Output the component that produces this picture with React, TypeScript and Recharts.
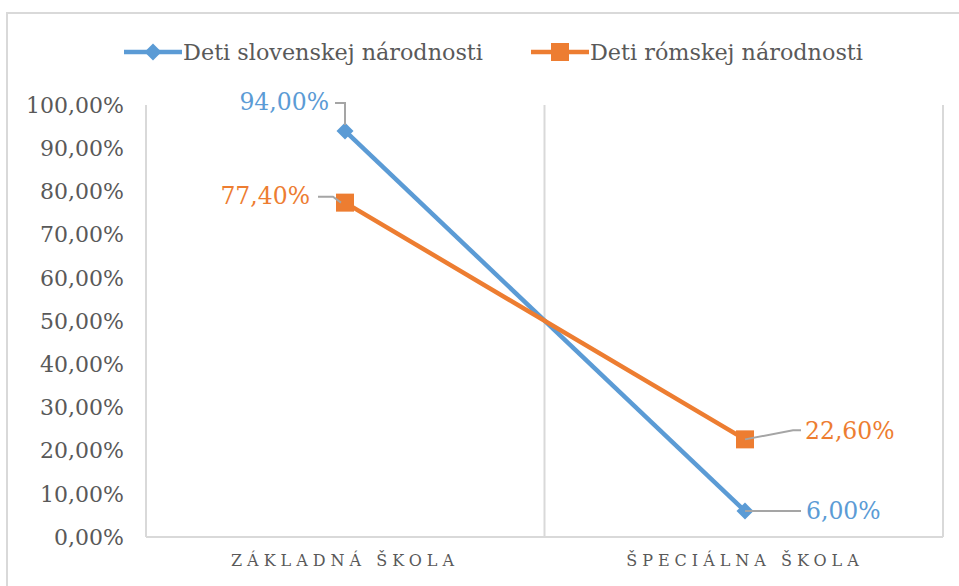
import { CartesianGrid, Legend, LabelList, Line, LineChart, XAxis, YAxis } from "recharts";

const categories = ["ZÁKLADNÁ ŠKOLA", "ŠPECIÁLNA ŠKOLA"];
const slovakChildren = [0.94, 0.06];
const romaChildren = [0.774, 0.226];
const yTicks = [0, 0.1, 0.2, 0.3, 0.4, 0.5, 0.6, 0.7, 0.8, 0.9, 1];
const gridTicks = [0, 1, 2];

const BLUE = "#5B9BD5";
const ORANGE = "#ED7D31";
const GRAY_TEXT = "#595959";
const FONT = "DejaVu Serif";

const data = categories.map((name, i) => ({
  name,
  slot: i + 0.5,
  slovak: slovakChildren[i],
  roma: romaChildren[i],
}));

const pct = (v: number) => (v * 100).toFixed(2).replace(".", ",") + "%";

function Diamond(props: any) {
  const { cx, cy } = props;
  if (cx == null || cy == null) return null;
  const r = 8.5;
  return <path d={`M${cx},${cy - r}L${cx + r},${cy}L${cx},${cy + r}L${cx - r},${cy}Z`} fill={BLUE} />;
}

function Square(props: any) {
  const { cx, cy } = props;
  if (cx == null || cy == null) return null;
  return <rect x={cx - 9} y={cy - 9} width={18} height={18} fill={ORANGE} />;
}

function SlovakLabel(props: any) {
  const { x, y, index, value } = props;
  const leader = "#A5A5A5";
  if (index === 0) {
    return (
      <g>
        <polyline points={`${x - 10},${y - 28} ${x},${y - 28} ${x},${y - 6}`} fill="none" stroke={leader} strokeWidth={2} />
        <text x={x - 16} y={y - 27} textAnchor="end" dominantBaseline="middle" fill={BLUE} fontSize={23.5} fontFamily={FONT}>
          {pct(value)}
        </text>
      </g>
    );
  }
  return (
    <g>
      <line x1={x} y1={y} x2={x + 56} y2={y} stroke={leader} strokeWidth={2} />
      <text x={x + 61} y={y + 1} textAnchor="start" dominantBaseline="middle" fill={BLUE} fontSize={23.5} fontFamily={FONT}>
        {pct(value)}
      </text>
    </g>
  );
}

function RomaLabel(props: any) {
  const { x, y, index, value } = props;
  const leader = "#A5A5A5";
  if (index === 0) {
    return (
      <g>
        <polyline points={`${x - 27},${y - 6} ${x - 12},${y - 6} ${x - 4},${y}`} fill="none" stroke={leader} strokeWidth={2} />
        <text x={x - 35} y={y - 5} textAnchor="end" dominantBaseline="middle" fill={ORANGE} fontSize={23.5} fontFamily={FONT}>
          {pct(value)}
        </text>
      </g>
    );
  }
  return (
    <g>
      <polyline points={`${x},${y} ${x + 48},${y - 9} ${x + 56},${y - 9}`} fill="none" stroke={leader} strokeWidth={2} />
      <text x={x + 60} y={y - 7} textAnchor="start" dominantBaseline="middle" fill={ORANGE} fontSize={23.5} fontFamily={FONT}>
        {pct(value)}
      </text>
    </g>
  );
}

function LegendContent() {
  const items = [
    { label: "Deti slovenskej národnosti", color: BLUE, marker: "diamond" },
    { label: "Deti rómskej národnosti", color: ORANGE, marker: "square" },
  ];
  return (
    <div
      style={{
        display: "flex",
        justifyContent: "center",
        gap: 48,
        paddingLeft: 44,
        fontFamily: FONT,
        fontSize: 22.3,
        color: GRAY_TEXT,
      }}
    >
      {items.map((it) => (
        <div key={it.label} style={{ display: "flex", alignItems: "center" }}>
          <svg width={58} height={24} style={{ marginRight: 1 }}>
            <line x1={0} y1={12} x2={58} y2={12} stroke={it.color} strokeWidth={4.5} />
            {it.marker === "diamond" ? (
              <path d="M29,3.5L37.5,12L29,20.5L20.5,12Z" fill={it.color} />
            ) : (
              <rect x={20} y={3} width={18} height={18} fill={it.color} />
            )}
          </svg>
          <span>{it.label}</span>
        </div>
      ))}
    </div>
  );
}

export default function App() {
  return (
    <div style={{ position: "absolute", left: 0, top: 0, width: 959, height: 586, overflow: "hidden", background: "#fff" }}>
      <div
        style={{
          position: "absolute",
          left: 6,
          top: 12,
          width: 1000,
          height: 1000,
          border: "2px solid #D9D9D9",
        }}
      />
      <div style={{ position: "absolute", left: 0, top: 0 }}>
        <LineChart width={959} height={586} data={data} margin={{ top: 79, right: 16, bottom: 19, left: 0 }}>
          <XAxis xAxisId="grid" type="number" dataKey="slot" domain={[0, 2]} ticks={gridTicks} hide />
          <CartesianGrid xAxisId="grid" horizontal={false} stroke="#D9D9D9" strokeWidth={2} />
          <XAxis
            dataKey="name"
            padding={{ left: 199, right: 198 }}
            axisLine={{ stroke: "#D9D9D9", strokeWidth: 2 }}
            tickLine={false}
            tickMargin={12}
            tick={{ fill: GRAY_TEXT, fontSize: 16, fontFamily: FONT, letterSpacing: 5 }}
            interval={0}
          />
          <YAxis
            width={146}
            domain={[0, 1]}
            ticks={yTicks}
            tickFormatter={pct}
            axisLine={{ stroke: "#D9D9D9", strokeWidth: 2 }}
            tickLine={false}
            tickMargin={16}
            tick={{ fill: GRAY_TEXT, fontSize: 22, fontFamily: FONT }}
            interval={0}
          />
          <Legend verticalAlign="top" content={<LegendContent />} wrapperStyle={{ top: 39 }} />
          <Line
            dataKey="slovak"
            stroke={BLUE}
            strokeWidth={4.5}
            dot={<Diamond />}
            activeDot={false}
            isAnimationActive={false}
          >
            <LabelList dataKey="slovak" content={<SlovakLabel />} />
          </Line>
          <Line
            dataKey="roma"
            stroke={ORANGE}
            strokeWidth={4.5}
            dot={<Square />}
            activeDot={false}
            isAnimationActive={false}
          >
            <LabelList dataKey="roma" content={<RomaLabel />} />
          </Line>
        </LineChart>
      </div>
    </div>
  );
}
